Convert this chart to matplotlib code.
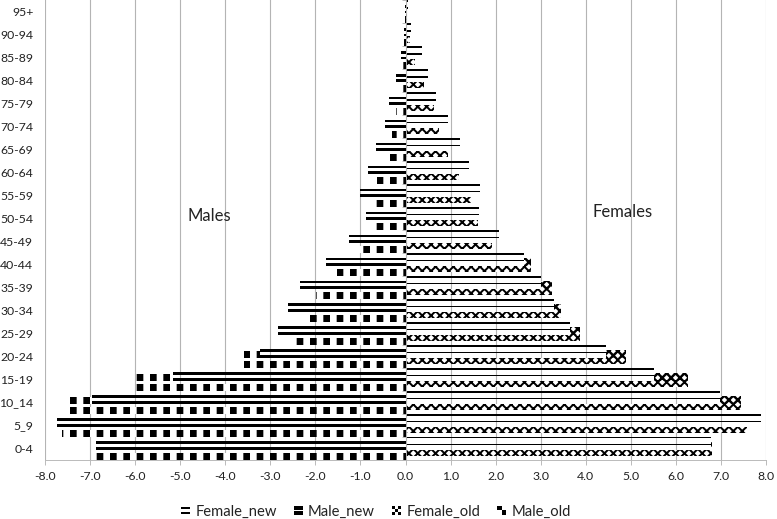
import matplotlib
matplotlib.use('Agg')
import matplotlib.pyplot as plt
from matplotlib.patches import Patch, Rectangle
from matplotlib.legend_handler import HandlerBase
import numpy as np

ages = ['0-4', '5_9', '10_14', '15-19', '20-24', '25-29', '30-34', '35-39', '40-44',
        '45-49', '50-54', '55-59', '60-64', '65-69', '70-74', '75-79', '80-84',
        '85-89', '90-94', '95+']
male_new = [-6.86, -7.73, -6.95, -5.16, -3.23, -2.82, -2.61, -2.34, -1.76, -1.25,
            -0.88, -1.00, -0.83, -0.66, -0.46, -0.37, -0.22, -0.10, -0.03, -0.01]
male_old = [-6.93, -7.63, -7.57, -5.99, -3.59, -2.51, -2.14, -1.99, -1.53, -1.03,
            -0.70, -0.70, -0.63, -0.37, -0.30, -0.21, -0.15, -0.08, -0.03, -0.01]
female_new = [6.78, 7.88, 6.97, 5.52, 4.46, 3.64, 3.30, 3.00, 2.62, 2.08,
              1.64, 1.66, 1.42, 1.20, 0.94, 0.68, 0.49, 0.37, 0.12, 0.05]
female_old = [6.80, 7.57, 7.45, 6.27, 4.90, 3.87, 3.44, 3.26, 2.79, 1.92,
              1.60, 1.45, 1.18, 0.94, 0.74, 0.63, 0.41, 0.22, 0.10, 0.03]
xticks = list(range(-8, 9))
series_names = ['Female_new', 'Male_new', 'Female_old', 'Male_old']

plt.rcParams['font.family'] = ['Lato', 'DejaVu Sans']
TXT = '#222222'
GRID = '#b4b4b4'

DPI = 80
W, H = 777, 519
fig = plt.figure(figsize=(W / DPI, H / DPI), dpi=DPI)
ax = fig.add_axes([45 / W, (H - 459.5) / H, (766 - 45) / W, 459.5 / H])

y = np.arange(len(ages))
mn, mo_, fn, fo_ = (np.array(a) for a in (male_new, male_old, female_new, female_old))


def set_hlw(container, lw):
    for p in container:
        if hasattr(p, 'set_hatch_linewidth'):
            p.set_hatch_linewidth(lw)


# old series (lower part of each band)
fo = ax.barh(y - 0.21, fo_, height=0.28, facecolor='white', edgecolor='black',
             linewidth=0, hatch='xxx', zorder=2)
set_hlw(fo, 1.8)
mo = ax.barh(y - 0.355, mo_, height=0.29, facecolor='white', edgecolor='black',
             linewidth=0, hatch='|', zorder=2)
set_hlw(mo, 6.0)

# where an old bar reaches past the new bar, its pattern fills the whole band
fo_ext = ax.barh(y + 0.09, np.maximum(fo_ - fn, 0), left=fn, height=0.32,
                 facecolor='white', edgecolor='black', linewidth=0, hatch='xxx', zorder=2)
set_hlw(fo_ext, 2.2)
mo_ext = ax.barh(y + 0.07, np.minimum(mo_ - mn, 0), left=mn, height=0.28,
                 facecolor='white', edgecolor='black', linewidth=0, hatch='|', zorder=2)
set_hlw(mo_ext, 6.0)

# new series (upper part of each band): striped bars
ax.barh(y + 0.45, fn, height=0.07, color='black', linewidth=0, zorder=3)
ax.barh(y + 0.16, fn, height=0.07, color='black', linewidth=0, zorder=3)
ax.barh(y + 0.23, mn, height=0.12, color='black', linewidth=0, zorder=3)
ax.barh(y - 0.015, mn, height=0.11, color='black', linewidth=0, zorder=3)

ax.set_xlim(-8, 8)
ax.set_ylim(-0.5, len(ages) - 0.5)
ax.set_xticks(xticks)
ax.set_xticklabels([f'{v:.1f}' for v in xticks], fontsize=11, color=TXT)
ax.grid(axis='x', color=GRID, linewidth=1.0)
ax.set_axisbelow(True)

for s in ['top', 'right']:
    ax.spines[s].set_visible(False)
ax.spines['bottom'].set_color(GRID)
ax.spines['left'].set_position(('data', 0))
ax.spines['left'].set_color(GRID)
ax.spines['left'].set_zorder(4)
ax.tick_params(axis='x', length=4.5, color=GRID, pad=5.5)
ax.set_yticks(np.arange(-0.5, len(ages), 1.0))
ax.set_yticklabels([])
ax.tick_params(axis='y', length=3.5, color=GRID, direction='out')

sec = ax.secondary_yaxis(0.0)
sec.set_yticks(y, labels=ages)
sec.tick_params(length=0, pad=10.5, labelsize=11, labelcolor=TXT)
sec.spines['left'].set_visible(False)

ax.text(-4.35, 10.1, 'Males', fontsize=15, color=TXT, ha='center', va='center', zorder=1)
ax.text(4.81, 10.26, 'Females', fontsize=15, color=TXT, ha='center', va='center', zorder=1)


class SwatchHandler(HandlerBase):
    def __init__(self, kind):
        super().__init__()
        self.kind = kind

    def create_artists(self, legend, orig_handle, xdescent, ydescent, width, height,
                       fontsize, trans):
        x0, y0 = -xdescent, -ydescent
        arts = []
        if self.kind in ('thin', 'thick'):
            bands = [(0.12, 0.30), (0.62, 0.80)] if self.kind == 'thin' else [(0.05, 0.42), (0.58, 0.95)]
            for a, b in bands:
                arts.append(Rectangle((x0, y0 + a * height), width, (b - a) * height,
                                      facecolor='black', edgecolor='none', transform=trans))
        else:
            n = 3 if self.kind == 'fine' else 2
            cw, ch = width / n, height / n
            for i in range(n):
                for j in range(n):
                    if (i + j) % 2 == (0 if self.kind == 'fine' else 1):
                        arts.append(Rectangle((x0 + i * cw, y0 + j * ch), cw, ch,
                                              facecolor='black', edgecolor='none',
                                              transform=trans))
        return arts


handles = [Patch(label=n) for n in series_names]
hmap = {handles[0]: SwatchHandler('thin'), handles[1]: SwatchHandler('thick'),
        handles[2]: SwatchHandler('fine'), handles[3]: SwatchHandler('coarse')}
leg = fig.legend(handles, series_names, handler_map=hmap, loc='center',
                 bbox_to_anchor=(376 / W, 1 - 511.5 / H),
                 ncol=4, frameon=False, handlelength=0.6, handleheight=0.6,
                 handletextpad=0.35, columnspacing=1.16, fontsize=13.3)
for t in leg.get_texts():
    t.set_color(TXT)

fig.savefig('out.png', dpi=DPI)
